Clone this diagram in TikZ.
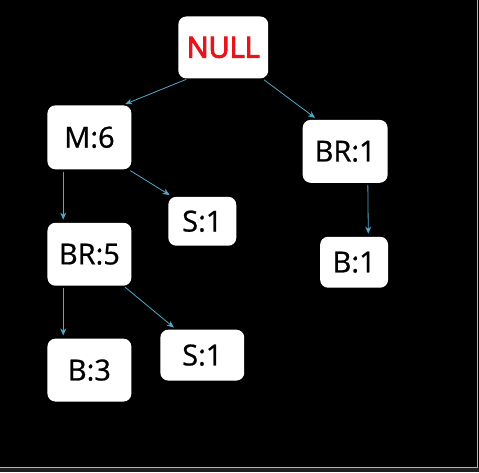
\documentclass[tikz,border=0pt]{standalone}
\usepackage{fontspec}
\setmainfont[FakeBold=0.8]{Open Sans}
\newfontfamily\rootfont[FakeBold=3.5]{Open Sans}
\usetikzlibrary{positioning, calc, arrows.meta}

\definecolor{linkblue}{HTML}{4FA9CB}
\definecolor{nullred}{HTML}{E8141B}

\begin{document}
\begin{tikzpicture}[x=1pt, y=-1pt,
	box/.style={draw=none, fill=white, rounded corners=8pt, inner sep=0pt, font=\fontsize{29}{32}\selectfont},
	link/.style={draw=linkblue, line width=0.8pt, -{Stealth[length=7pt, width=6pt]}, shorten <=2pt, shorten >=3pt}]
	% background and frame
	\fill[black] (0,0) rectangle (479,472);
	\fill[black!88] (0,467) rectangle (479,472);
	\draw[black!30, line width=1pt] (0,467) -- (477,467) -- (477,0);
	% nodes
	\node at (223,47) [box, minimum width=90pt, minimum height=62pt, text=nullred, font=\rootfont\fontsize{29}{32}\selectfont] (null) {NULL};
	\node at (89,137) [box, minimum width=84pt, minimum height=64pt] (m6) {M:6};
	\node at (202,221) [box, minimum width=68pt, minimum height=49pt] (s1a) {S:1};
	\node at (89,254) [box, minimum width=84pt, minimum height=63pt] (br5) {BR:5};
	\node at (89,370) [box, minimum width=84pt, minimum height=63pt] (b3) {B:3};
	\node at (202,355) [box, minimum width=84pt, minimum height=51pt] (s1b) {S:1};
	\node at (345,151) [box, minimum width=85pt, minimum height=63pt] (br1) {BR:1};
	\node at (354,262) [box, minimum width=68pt, minimum height=51pt] (b1) {B:1};
	% links
	\draw[link] ([xshift=10pt]null.south west) -- ([xshift=-9pt]m6.north east);
	\draw[link] ([xshift=-6pt]null.south east) -- ([xshift=15pt]br1.north west);
	\draw[link] ([xshift=16pt]m6.south west) -- ([xshift=16pt]br5.north west);
	\draw[link] ([xshift=-3pt]m6.south east) -- ([xshift=4pt]s1a.north west);
	\draw[link] ([xshift=16pt]br5.south west) -- ([xshift=16pt]b3.north west);
	\draw[link] ([xshift=-8pt]br5.south east) -- ([xshift=16pt]s1b.north west);
	\draw[link] ([xshift=-20pt]br1.south east) -- ([xshift=-20pt]b1.north east);
\end{tikzpicture}
\end{document}
